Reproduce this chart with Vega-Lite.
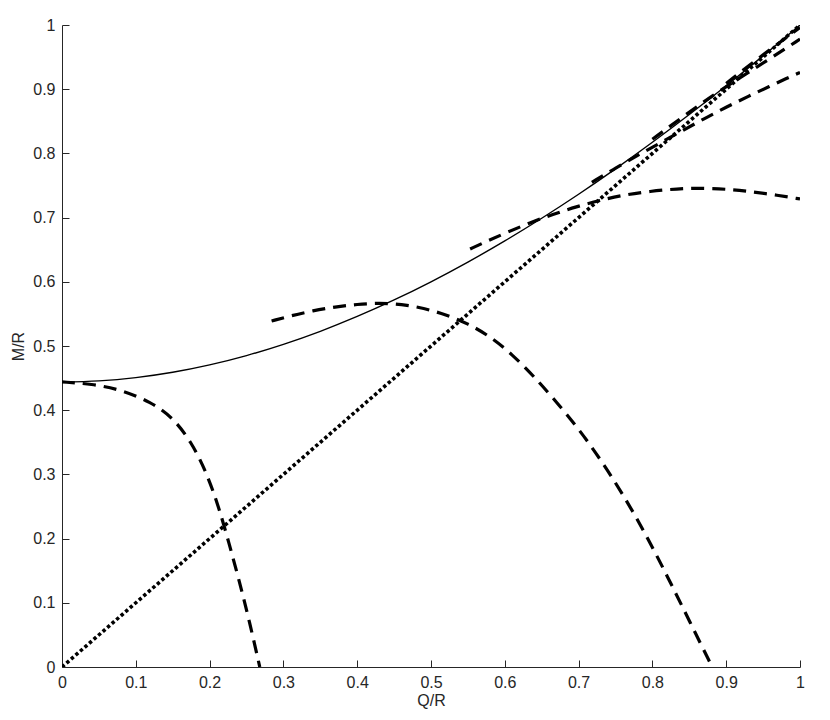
{
  "$schema": "https://vega.github.io/schema/vega-lite/v6.json",
  "width": 738,
  "height": 642,
  "autosize": {"type": "none"},
  "padding": {"left": 62, "top": 25, "right": 30, "bottom": 53},
  "background": "white",
  "config": {
    "view": {"stroke": null},
    "axis": {
      "grid": false,
      "domainColor": "#262626",
      "tickColor": "#262626",
      "labelColor": "#262626",
      "titleColor": "#262626",
      "labelFont": "Liberation Sans",
      "titleFont": "Liberation Sans",
      "labelFontSize": 16,
      "titleFontSize": 16,
      "titleFontWeight": "normal",
      "labelFlush": false,
      "tickSize": -7,
      "domainWidth": 1,
      "tickWidth": 1
    }
  },
  "datasets": {
    "env": [
      {"q": 0, "m": 0.444}, {"q": 0.05, "m": 0.4457}, {"q": 0.1, "m": 0.4508}, {"q": 0.15, "m": 0.4591},
      {"q": 0.2, "m": 0.4706}, {"q": 0.25, "m": 0.4851}, {"q": 0.3, "m": 0.5026}, {"q": 0.35, "m": 0.5229},
      {"q": 0.4, "m": 0.546}, {"q": 0.45, "m": 0.5717}, {"q": 0.5, "m": 0.6}, {"q": 0.55, "m": 0.6307},
      {"q": 0.6, "m": 0.6637}, {"q": 0.65, "m": 0.699}, {"q": 0.7, "m": 0.7364}, {"q": 0.75, "m": 0.7759},
      {"q": 0.8, "m": 0.8173}, {"q": 0.85, "m": 0.8605}, {"q": 0.9, "m": 0.9054}, {"q": 0.95, "m": 0.9519},
      {"q": 1, "m": 1.0}
    ],
    "diag": [{"q": 0, "m": 0}, {"q": 1, "m": 1}],
    "fam": [
      {"c": "A", "q": 0, "m": 0.444}, {"c": "A", "q": 0.04, "m": 0.441}, {"c": "A", "q": 0.08, "m": 0.432},
      {"c": "A", "q": 0.12, "m": 0.413}, {"c": "A", "q": 0.15, "m": 0.389}, {"c": "A", "q": 0.175, "m": 0.351},
      {"c": "A", "q": 0.195, "m": 0.305}, {"c": "A", "q": 0.212, "m": 0.251}, {"c": "A", "q": 0.226, "m": 0.194},
      {"c": "A", "q": 0.24, "m": 0.135}, {"c": "A", "q": 0.254, "m": 0.071}, {"c": "A", "q": 0.268, "m": 0},
      {"c": "B", "q": 0.284, "m": 0.539}, {"c": "B", "q": 0.31, "m": 0.547}, {"c": "B", "q": 0.34, "m": 0.555},
      {"c": "B", "q": 0.37, "m": 0.561}, {"c": "B", "q": 0.4, "m": 0.565}, {"c": "B", "q": 0.43, "m": 0.567},
      {"c": "B", "q": 0.46, "m": 0.565}, {"c": "B", "q": 0.49, "m": 0.559}, {"c": "B", "q": 0.52, "m": 0.549},
      {"c": "B", "q": 0.55, "m": 0.535}, {"c": "B", "q": 0.58, "m": 0.515}, {"c": "B", "q": 0.61, "m": 0.487},
      {"c": "B", "q": 0.64, "m": 0.452}, {"c": "B", "q": 0.67, "m": 0.413}, {"c": "B", "q": 0.7, "m": 0.371},
      {"c": "B", "q": 0.73, "m": 0.323}, {"c": "B", "q": 0.76, "m": 0.269}, {"c": "B", "q": 0.79, "m": 0.209},
      {"c": "B", "q": 0.82, "m": 0.142}, {"c": "B", "q": 0.85, "m": 0.072}, {"c": "B", "q": 0.881, "m": 0},
      {"c": "C", "q": 0.553, "m": 0.651}, {"c": "C", "q": 0.577, "m": 0.664}, {"c": "C", "q": 0.603, "m": 0.677},
      {"c": "C", "q": 0.634, "m": 0.692}, {"c": "C", "q": 0.665, "m": 0.705}, {"c": "C", "q": 0.697, "m": 0.717},
      {"c": "C", "q": 0.729, "m": 0.727}, {"c": "C", "q": 0.76, "m": 0.735}, {"c": "C", "q": 0.797, "m": 0.741},
      {"c": "C", "q": 0.833, "m": 0.745}, {"c": "C", "q": 0.869, "m": 0.746}, {"c": "C", "q": 0.905, "m": 0.744},
      {"c": "C", "q": 0.936, "m": 0.740}, {"c": "C", "q": 0.969, "m": 0.735}, {"c": "C", "q": 1, "m": 0.729},
      {"c": "D", "q": 0.718, "m": 0.755}, {"c": "D", "q": 0.75, "m": 0.777}, {"c": "D", "q": 0.78, "m": 0.797},
      {"c": "D", "q": 0.81, "m": 0.816}, {"c": "D", "q": 0.84, "m": 0.835}, {"c": "D", "q": 0.87, "m": 0.854},
      {"c": "D", "q": 0.9, "m": 0.872}, {"c": "D", "q": 0.93, "m": 0.889}, {"c": "D", "q": 0.96, "m": 0.905},
      {"c": "D", "q": 0.98, "m": 0.916}, {"c": "D", "q": 1, "m": 0.926},
      {"c": "E", "q": 0.8, "m": 0.822}, {"c": "E", "q": 0.84, "m": 0.856}, {"c": "E", "q": 0.88, "m": 0.889},
      {"c": "E", "q": 0.92, "m": 0.919}, {"c": "E", "q": 0.96, "m": 0.948}, {"c": "E", "q": 1, "m": 0.978},
      {"c": "F", "q": 0.9, "m": 0.909}, {"c": "F", "q": 0.95, "m": 0.954}, {"c": "F", "q": 1, "m": 0.996}
    ]
  },
  "layer": [
    {
      "data": {"name": "diag"},
      "mark": {"type": "line", "color": "black", "strokeWidth": 3.6, "strokeDash": [3.4, 2.6], "clip": true},
      "encoding": {
        "x": {"field": "q", "type": "quantitative", "scale": {"domain": [0, 1], "nice": false},
              "axis": {"title": "Q/R", "values": [0, 0.1, 0.2, 0.3, 0.4, 0.5, 0.6, 0.7, 0.8, 0.9, 1], "format": "~g", "labelFlush": false, "labelFontSize": 16, "labelPadding": 14, "titlePadding": 2}},
        "y": {"field": "m", "type": "quantitative", "scale": {"domain": [0, 1], "nice": false},
              "axis": {"title": "M/R", "values": [0, 0.1, 0.2, 0.3, 0.4, 0.5, 0.6, 0.7, 0.8, 0.9, 1], "format": "~g", "labelFlush": false, "labelFontSize": 16, "labelPadding": 14, "titlePadding": 6}}
      }
    },
    {
      "data": {"name": "fam"},
      "mark": {"type": "line", "color": "black", "strokeWidth": 3.2, "strokeDash": [13, 8], "interpolate": "basis", "clip": true},
      "encoding": {
        "x": {"field": "q", "type": "quantitative"},
        "y": {"field": "m", "type": "quantitative"},
        "detail": {"field": "c", "type": "nominal"}
      }
    },
    {
      "data": {"name": "env"},
      "mark": {"type": "line", "color": "black", "strokeWidth": 1.4, "interpolate": "monotone", "clip": true},
      "encoding": {
        "x": {"field": "q", "type": "quantitative"},
        "y": {"field": "m", "type": "quantitative"}
      }
    }
  ]
}
